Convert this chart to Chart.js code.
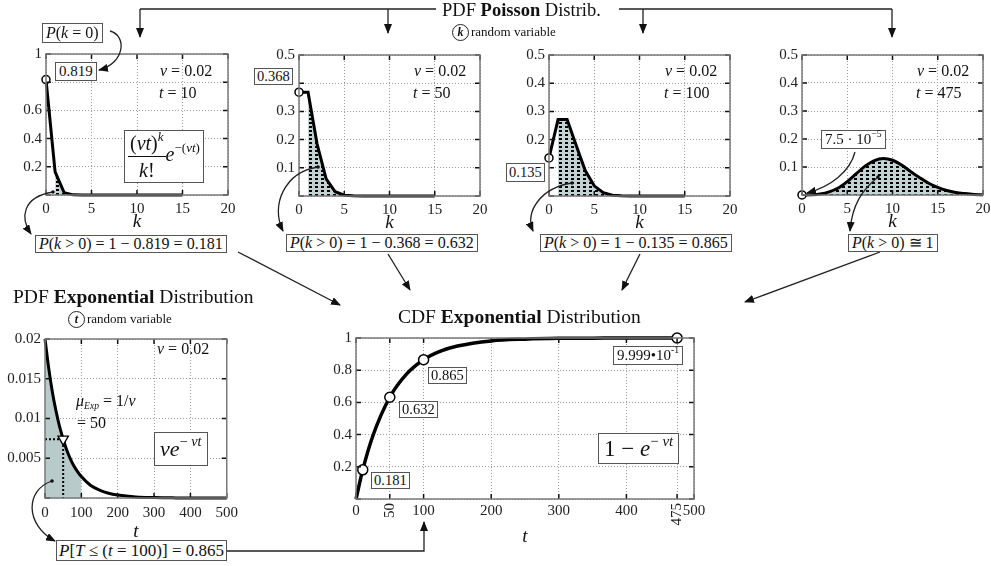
<!DOCTYPE html>
<html>
<head>
<meta charset="utf-8">
<title>Poisson / Exponential</title>
<script src="https://cdn.jsdelivr.net/npm/chart.js@4.4.0/dist/chart.umd.min.js"></script>
<style>
html,body{margin:0;padding:0;background:#fff;width:991px;height:566px;overflow:hidden;}
#wrap{position:relative;width:991px;height:566px;}
canvas.ch{position:absolute;z-index:1;}
svg#arrows{position:absolute;left:0;top:0;z-index:2;}
.t{position:absolute;z-index:3;font-family:'Liberation Serif','Times New Roman',serif;color:#111;white-space:nowrap;line-height:1;font-size:16px;}
.box{background:#fff;border:1.5px solid #555;padding:1px 3px;}
.circ{display:inline-block;width:15px;height:15px;border:1.3px solid #222;border-radius:50%;text-align:center;line-height:15px;font-size:12px;margin-right:2px;}
.frac{display:inline-block;vertical-align:middle;text-align:center;}
.frac .num{display:block;border-bottom:1.5px solid #111;padding:0 2px 3px 2px;}
.frac .den{display:block;padding-top:3px;}
sup{font-size:65%;vertical-align:0.7em;line-height:0;}
sub{font-size:60%;vertical-align:-0.3em;line-height:0;}
</style>
</head>
<body>
<div id="wrap">
<canvas class="ch" id="pois10"></canvas>
<canvas class="ch" id="pois50"></canvas>
<canvas class="ch" id="pois100"></canvas>
<canvas class="ch" id="pois475"></canvas>
<canvas class="ch" id="expPdf"></canvas>
<canvas class="ch" id="expCdf"></canvas>

<svg id="arrows" width="991" height="566">
 <defs>
  <marker id="ah" markerWidth="10" markerHeight="8" refX="9" refY="4" orient="auto" markerUnits="userSpaceOnUse">
   <path d="M0,0 L10,4 L0,8 z" fill="#111"/>
  </marker>
 </defs>
 <g fill="none" stroke="#222" stroke-width="1.3">
  <path d="M140,9 L436,9 M619,9 L892,9"/>
  <path d="M140,9 L140,37" marker-end="url(#ah)"/>
  <path d="M388,9 L388,33" marker-end="url(#ah)"/>
  <path d="M643,9 L643,33" marker-end="url(#ah)"/>
  <path d="M892,9 L892,37" marker-end="url(#ah)"/>
  <path d="M110,31 C128,36 124,64 99,70" marker-end="url(#ah)"/>
  <path d="M53,192 C22,197 20,218 31,234" marker-end="url(#ah)"/>
  <path d="M318,167 C285,172 270,205 283,231" marker-end="url(#ah)"/>
  <path d="M572,183 C540,188 525,212 533,231" marker-end="url(#ah)"/>
  <path d="M855,152 C850,172 830,187 807,193" marker-end="url(#ah)"/>
  <path d="M878,177 C862,190 852,205 850,231" marker-end="url(#ah)"/>
  <path d="M238,252 L340,305" marker-end="url(#ah)"/>
  <path d="M388,254 L410,290" marker-end="url(#ah)"/>
  <path d="M640,254 L622,290" marker-end="url(#ah)"/>
  <path d="M880,252 L745,302" marker-end="url(#ah)"/>
  <path d="M52,481 C25,490 25,525 55,541" marker-end="url(#ah)"/>
  <path d="M225,551 L424,551 L424,522" marker-end="url(#ah)"/>
 </g>
 <g fill="#111">
  <circle cx="53" cy="192" r="1.8"/><circle cx="318" cy="167" r="1.8"/>
  <circle cx="572" cy="183" r="1.8"/><circle cx="878" cy="177" r="1.8"/>
  <circle cx="52" cy="481" r="1.8"/>
 </g>
</svg>

<!-- top title -->
<div class="t" style="left:442px;top:1px;font-size:18.5px">PDF <b>Poisson</b> Distrib.</div>
<div class="t" style="left:452px;top:24px;font-size:13px"><span class="circ"><b><i>k</i></b></span>random variable</div>

<!-- chart 1 -->
<div class="t box" style="left:42px;top:23px"><i>P</i>(<i>k</i> = 0)</div>
<div class="t box" style="left:55px;top:62px;font-size:15px">0.819</div>
<div class="t" style="left:160px;top:63px"><i>&nu;</i> = 0.02</div>
<div class="t" style="left:159px;top:85px"><i>t</i> = 10</div>
<div class="t box" style="left:124px;top:130px;font-size:20px;padding:2px 3px"><span class="frac"><span class="num">(<i>&nu;t</i>)<sup><i>k</i></sup></span><span class="den"><i>k</i>!</span></span><i>e</i><sup>&minus;(<i>&nu;t</i>)</sup></div>
<div class="t box" style="left:35px;top:235px;padding:0 3px"><i>P</i>(<i>k</i> &gt; 0) = 1 &minus; 0.819 = 0.181</div>

<!-- chart 2 -->
<div class="t box" style="left:254px;top:68px;font-size:14.5px;padding:0 2px">0.368</div>
<div class="t" style="left:414px;top:63px"><i>&nu;</i> = 0.02</div>
<div class="t" style="left:413px;top:85px"><i>t</i> = 50</div>
<div class="t box" style="left:286px;top:234px;padding:0 3px"><i>P</i>(<i>k</i> &gt; 0) = 1 &minus; 0.368 = 0.632</div>

<!-- chart 3 -->
<div class="t box" style="left:506px;top:163px;font-size:14.5px;padding:1px 2px">0.135</div>
<div class="t" style="left:665px;top:63px"><i>&nu;</i> = 0.02</div>
<div class="t" style="left:664px;top:85px"><i>t</i> = 100</div>
<div class="t box" style="left:540px;top:234px;padding:0 3px"><i>P</i>(<i>k</i> &gt; 0) = 1 &minus; 0.135 = 0.865</div>

<!-- chart 4 -->
<div class="t box" style="left:821px;top:130px;font-size:15px">7.5 &middot; 10<sup>&minus;5</sup></div>
<div class="t" style="left:917px;top:63px"><i>&nu;</i> = 0.02</div>
<div class="t" style="left:916px;top:85px"><i>t</i> = 475</div>
<div class="t box" style="left:848px;top:234px;padding:0 3px"><i>P</i>(<i>k</i> &gt; 0) &cong; 1</div>

<!-- exponential pdf -->
<div class="t" style="left:13px;top:287px;font-size:19.5px">PDF <b>Exponential</b> Distribution</div>
<div class="t" style="left:68px;top:311px;font-size:13px"><span class="circ"><b><i>t</i></b></span>random variable</div>
<div class="t" style="left:157px;top:341px"><i>&nu;</i> = 0.02</div>
<div class="t" style="left:76px;top:393px"><i>&mu;</i><sub><i>Exp</i></sub> = 1/<i>&nu;</i></div>
<div class="t" style="left:77px;top:415px">= 50</div>
<div class="t box" style="left:154px;top:432px;font-size:22px;padding:5px 5px"><i>&nu;e</i><sup>&minus;&nbsp;<i>&nu;t</i></sup></div>
<div class="t box" style="left:56px;top:540px;font-size:17px;padding:1px 2px"><i>P</i>[<i>T</i> &le; (<i>t</i> = 100)] = 0.865</div>

<!-- exponential cdf -->
<div class="t" style="left:398px;top:307px;font-size:19.5px">CDF <b>Exponential</b> Distribution</div>
<div class="t box" style="left:371px;top:472px;font-size:14.5px;padding:0 2px">0.181</div>
<div class="t box" style="left:399px;top:401px;font-size:14.5px;padding:0 2px">0.632</div>
<div class="t box" style="left:428px;top:367px;font-size:14.5px;padding:0 2px">0.865</div>
<div class="t box" style="left:613px;top:346px;font-size:15px;padding:1px 3px">9.999&bull;10<sup>-1</sup></div>
<div class="t box" style="left:598px;top:433px;font-size:23px;padding:3px 5px">1 &minus; <i>e</i><sup>&minus;&nbsp;<i>&nu;t</i></sup></div>
</div>

<script>
// ---- data ----
var kShort = [0,1,2,3,4,5,6,7,8,9,10,11,12,13,14,15];
var pT10  = [0.819,0.164,0.016,0.001,0,0,0,0,0,0,0,0,0,0,0,0];
var pT50  = [0.368,0.368,0.184,0.061,0.015,0.003,0.001,0,0,0,0,0,0,0,0,0];
var pT100 = [0.135,0.271,0.271,0.180,0.090,0.036,0.012,0.003,0.001,0,0,0,0,0,0,0];
var kLong = [0,1,2,3,4,5,6,7,8,9,10,11,12,13,14,15,16,17,18,19,20];
var pT475 = [0.000075,0.0007,0.0034,0.011,0.025,0.048,0.076,0.104,0.123,0.130,0.124,0.107,0.084,0.062,0.042,0.027,0.016,0.009,0.005,0.002,0.001];

var tPdf = [0,10,20,30,40,50,60,70,80,90,100,125,150,175,200,250,300,350,400,450,500];
var pdfExp = [0.02,0.0164,0.0134,0.011,0.009,0.0074,0.006,0.0049,0.004,0.0033,0.0027,0.0016,0.001,0.0006,0.00037,0.00013,0.00005,0.00002,0,0,0];
var tMean = 50, pdfAtMean = 0.0074;
var tShadeEnd = 100;

var tCdf = [0,10,25,50,75,100,125,150,200,250,300,350,400,475];
var cdfExp = [0,0.181,0.393,0.632,0.777,0.865,0.918,0.950,0.982,0.993,0.998,0.999,1.0,1.0];
var cdfMarkT = [10,50,100,475];
var cdfMarkY = [0.181,0.632,0.865,0.9999];

// ticks / labels
var kTicks = [0,5,10,15,20];
var kTickLabels = ['0','5','10','15','20'];
var y1Ticks = [0,0.2,0.4,0.6,0.8,1];
var y1Labels = ['','0.2','0.4','0.6','','1'];
var yHalfTicks = [0,0.1,0.2,0.3,0.4,0.5];
var y2Labels = ['','0.1','0.2','0.3','','0.5'];
var y3Labels = ['','','0.2','0.3','0.4','0.5'];
var y4Labels = ['','0.1','0.2','0.3','0.4','0.5'];
var tPdfTicks = [0,100,200,300,400,500];
var tPdfLabels = ['0','100','200','300','400','500'];
var yPdfTicks = [0,0.005,0.01,0.015,0.02];
var yPdfLabels = ['','0.005','0.01','0.015','0.02'];
var tCdfTicks = [0,50,100,200,300,400,475,500];
var tCdfLabels = ['0','','100','200','300','400','','500'];
var tCdfRotated = ['50','475'];
var yCdfLabels = ['','0.2','0.4','0.6','0.8','1'];

var SERIF = "'Liberation Serif','Times New Roman',serif";

// hatch used under the poisson curves
function makeHatch() {
  var c = document.createElement('canvas');
  c.width = 6; c.height = 4;
  var g = c.getContext('2d');
  g.fillStyle = '#c2d2d2';
  g.fillRect(0, 0, 6, 4);
  g.fillStyle = '#000';
  g.fillRect(1, 0, 3, 2);
  return g.createPattern(c, 'repeat');
}
var hatch = makeHatch();

// box + inward ticks, matlab style
var framePlugin = {
  id: 'frame',
  afterDatasetsDraw: function(chart, args, opts) {
    var ctx = chart.ctx, a = chart.chartArea;
    var xs = chart.scales.x, ys = chart.scales.y;
    ctx.save();
    ctx.strokeStyle = '#111';
    ctx.lineWidth = 1.5;
    ctx.beginPath();
    xs.ticks.forEach(function(t) {
      var p = xs.getPixelForValue(t.value);
      ctx.moveTo(p, a.bottom); ctx.lineTo(p, a.bottom - 5);
      ctx.moveTo(p, a.top); ctx.lineTo(p, a.top + 5);
    });
    ys.ticks.forEach(function(t) {
      var p = ys.getPixelForValue(t.value);
      ctx.moveTo(a.left, p); ctx.lineTo(a.left + 5, p);
      ctx.moveTo(a.right, p); ctx.lineTo(a.right - 5, p);
    });
    ctx.stroke();
    ctx.strokeStyle = '#7a7a7a';
    ctx.strokeRect(a.left, a.top, a.right - a.left, a.bottom - a.top);
    if (opts && opts.rotated) {
      ctx.fillStyle = '#222';
      ctx.font = '15px ' + SERIF;
      ctx.textAlign = 'right';
      ctx.textBaseline = 'middle';
      opts.rotated.forEach(function(lbl) {
        var p = xs.getPixelForValue(Number(lbl));
        ctx.save();
        ctx.translate(p, a.bottom + 4);
        ctx.rotate(-Math.PI / 2);
        ctx.fillText(lbl, 0, 0);
        ctx.restore();
      });
    }
    ctx.restore();
  }
};

function pts(xs, ys) {
  return xs.map(function(x, i) { return {x: x, y: ys[i]}; });
}

function makeChart(id, area, o) {
  var padL = 45, padT = 12, padR = 16, xH = o.xAxisH || 40;
  var cv = document.getElementById(id);
  cv.width = area.r - area.l + padL + padR;
  cv.height = area.b - area.t + padT + xH;
  cv.style.left = (area.l - padL) + 'px';
  cv.style.top = (area.t - padT) + 'px';
  return new Chart(cv, {
    type: 'line',
    data: { datasets: o.datasets },
    options: {
      responsive: false,
      animation: false,
      layout: { padding: { left: 0, top: padT, right: padR, bottom: 0 } },
      plugins: { legend: { display: false }, tooltip: { enabled: false }, frame: { rotated: o.rotated } },
      scales: {
        x: {
          type: 'linear', min: o.xTicks[0], max: o.xTicks[o.xTicks.length - 1],
          afterBuildTicks: function(s) { s.ticks = o.xTicks.map(function(v) { return {value: v}; }); },
          afterFit: function(s) { s.height = xH; },
          grid: { color: '#9c9c9c', lineWidth: 1, drawTicks: false },
          border: { display: false, dash: [1, 2] },
          ticks: { autoSkip: false, maxRotation: 0, padding: o.xPad || 5, color: '#222',
                   font: { family: SERIF, size: 15 },
                   callback: function(v, i) { return o.xLabels[i]; } },
          title: { display: true, text: o.xTitle, color: '#111',
                   font: { family: SERIF, size: 19, style: 'italic' },
                   padding: { top: 0, bottom: o.titlePad || 2 } }
        },
        y: {
          type: 'linear', min: o.yTicks[0], max: o.yTicks[o.yTicks.length - 1],
          afterBuildTicks: function(s) { s.ticks = o.yTicks.map(function(v) { return {value: v}; }); },
          afterFit: function(s) { s.width = padL; },
          grid: { color: '#9c9c9c', lineWidth: 1, drawTicks: false },
          border: { display: false, dash: [1, 2] },
          ticks: { padding: 4, color: '#222', font: { family: SERIF, size: 15 },
                   callback: function(v, i) { return o.yLabels[i]; } }
        }
      }
    },
    plugins: [framePlugin]
  });
}

function poissonSets(ks, vals, smooth) {
  var all = pts(ks, vals);
  var mode = smooth ? 'monotone' : 'default';
  return [
    { data: [all[0]], showLine: false, pointRadius: 4, pointBackgroundColor: '#fff',
      pointBorderColor: '#000', pointBorderWidth: 1.5, clip: false },
    { data: all, borderColor: '#000', borderWidth: 3, pointRadius: 0, fill: false,
      tension: 0, cubicInterpolationMode: mode, clip: false },
    { data: all.slice(1), borderColor: 'rgba(0,0,0,0)', borderWidth: 0, pointRadius: 0,
      fill: 'origin', backgroundColor: hatch, tension: 0, cubicInterpolationMode: mode }
  ];
}

makeChart('pois10', {l: 46, t: 53, r: 228, b: 195}, {
  datasets: poissonSets(kShort, pT10, false),
  xTicks: kTicks, xLabels: kTickLabels, yTicks: y1Ticks, yLabels: y1Labels, xTitle: 'k'
});
makeChart('pois50', {l: 299, t: 54, r: 480, b: 196}, {
  datasets: poissonSets(kShort, pT50, false),
  xTicks: kTicks, xLabels: kTickLabels, yTicks: yHalfTicks, yLabels: y2Labels, xTitle: 'k'
});
makeChart('pois100', {l: 549, t: 54, r: 730, b: 196}, {
  datasets: poissonSets(kShort, pT100, false),
  xTicks: kTicks, xLabels: kTickLabels, yTicks: yHalfTicks, yLabels: y3Labels, xTitle: 'k'
});
makeChart('pois475', {l: 802, t: 54, r: 983, b: 195}, {
  datasets: poissonSets(kLong, pT475, true),
  xTicks: kTicks, xLabels: kTickLabels, yTicks: yHalfTicks, yLabels: y4Labels, xTitle: 'k'
});

var pdfPts = pts(tPdf, pdfExp);
makeChart('expPdf', {l: 45, t: 338, r: 228, b: 498}, {
  xAxisH: 46, xPad: 6, titlePad: 1,
  datasets: [
    { data: [{x: tMean, y: pdfAtMean}], showLine: false, pointStyle: 'triangle', rotation: 180,
      pointRadius: 6, pointBackgroundColor: '#fff', pointBorderColor: '#000', pointBorderWidth: 1.3, clip: false },
    { data: [{x: tPdf[0], y: pdfAtMean}, {x: tMean, y: pdfAtMean}, {x: tMean, y: 0}],
      borderColor: '#000', borderWidth: 2, borderDash: [2, 2], pointRadius: 0, fill: false },
    { data: pdfPts, borderColor: '#000', borderWidth: 3, pointRadius: 0, fill: false,
      cubicInterpolationMode: 'monotone', clip: false },
    { data: pdfPts.filter(function(p) { return p.x <= tShadeEnd; }), borderColor: 'rgba(0,0,0,0)',
      borderWidth: 0, pointRadius: 0, fill: 'origin', backgroundColor: '#b8caca', cubicInterpolationMode: 'monotone' }
  ],
  xTicks: tPdfTicks, xLabels: tPdfLabels, yTicks: yPdfTicks, yLabels: yPdfLabels, xTitle: 't'
});

makeChart('expCdf', {l: 356, t: 337, r: 694, b: 499}, {
  xAxisH: 50, xPad: 3, titlePad: 1, rotated: tCdfRotated,
  datasets: [
    { data: pts(cdfMarkT, cdfMarkY), showLine: false, pointRadius: 5, pointBackgroundColor: '#fff',
      pointBorderColor: '#000', pointBorderWidth: 1.5, clip: false },
    { data: pts(tCdf, cdfExp), borderColor: '#000', borderWidth: 3.5, pointRadius: 0, fill: false,
      cubicInterpolationMode: 'monotone', clip: false }
  ],
  xTicks: tCdfTicks, xLabels: tCdfLabels, yTicks: y1Ticks, yLabels: yCdfLabels, xTitle: 't'
});
</script>
</body>
</html>
